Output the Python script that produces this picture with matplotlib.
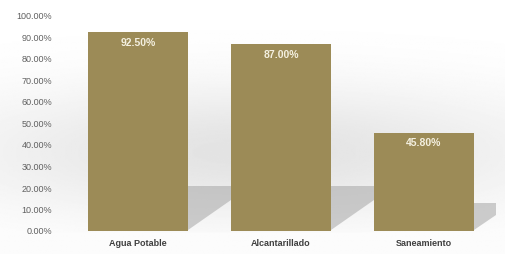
import numpy as np
import matplotlib

matplotlib.use('Agg')
import matplotlib.pyplot as plt
from matplotlib.ticker import PercentFormatter

categories = ['Agua Potable', 'Alcantarillado', 'Saneamiento']
values = [92.50, 87.00, 45.80]
y_ticks = [0, 10, 20, 30, 40, 50, 60, 70, 80, 90, 100]

bar_color = '#9c8b57'
plt.rcParams['font.family'] = ['Liberation Sans', 'DejaVu Sans']

fig = plt.figure(figsize=(5.06, 2.54), dpi=100)

# background gradient
bg = fig.add_axes([0, 0, 1, 1], zorder=0)
yy, xx = np.mgrid[0:1:200j, 0:1:400j]
shade = 1.0 - 0.11 * np.exp(-((xx - 0.5) ** 2 / 0.35 + (yy - 0.4) ** 2 / 0.07))
shade[yy < 0.085] = 0.985
bg.imshow(shade, cmap='gray', vmin=0, vmax=1, aspect='auto', extent=[0, 1, 0, 1], origin='lower')
bg.axis('off')

ax = fig.add_axes([62 / 506, 23 / 254, 438 / 506, 215 / 254], zorder=1)
ax.patch.set_alpha(0)
x = np.arange(len(categories))
width = 0.70

# shadows behind bars, tapering to the right
for xi, v in zip(x, values):
    right = xi + width / 2
    reach = 0.30 if v > 60 else 0.15
    top = 21 if v > 60 else 13
    ax.fill([right, right, right + reach, right + reach],
            [0.5, top, top, top * 0.68 if v > 60 else 7.4],
            color='#a6a6a6', alpha=0.55, lw=0, zorder=1)

bars = ax.bar(x, values, width=width, color=bar_color, zorder=2)
for xi, v in zip(x, values):
    ax.text(xi, v - 5, f'{v:.2f}%', ha='center', va='center', color='#f4f0e0',
            fontsize=7.5, fontweight='bold', zorder=3)

ax.set_ylim(0, 100)
ax.set_xlim(-0.531, 2.531)
ax.set_yticks(y_ticks)
ax.yaxis.set_major_formatter(PercentFormatter(decimals=2))
ax.set_xticks(x)
ax.set_xticklabels(categories, fontweight='bold', color='#404040', fontsize=6.5)
ax.tick_params(axis='y', length=0, labelsize=6.5, labelcolor='#606060', pad=7)
ax.tick_params(axis='x', length=0, pad=6)
for s in ax.spines.values():
    s.set_visible(False)

plt.savefig('out.png', dpi=100)
plt.close()
